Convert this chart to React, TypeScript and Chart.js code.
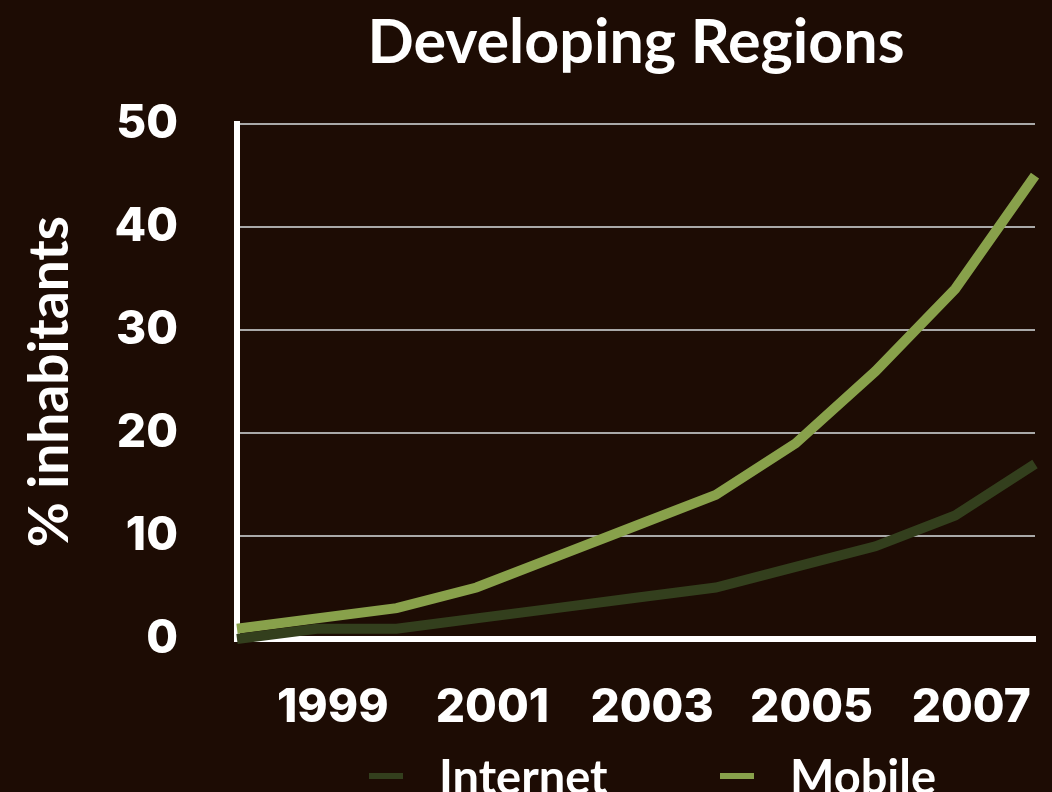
import React, { useEffect, useRef } from 'react';
import { Chart, registerables } from 'chart.js';

Chart.register(...registerables);

const years = ['1998', '1999', '2000', '2001', '2002', '2003', '2004', '2005', '2006', '2007', '2008'];
const internetValues = [0, 1, 1, 2, 3, 4, 5, 7, 9, 12, 17];
const mobileValues = [1, 2, 3, 5, 8, 11, 14, 19, 26, 34, 45];
const xTickLabels = ['1999', '2001', '2003', '2005', '2007'];
const seriesNames = ['Internet', 'Mobile'];
const seriesColors = ['#333f1d', '#88a14b'];
const chartTitle = 'Developing Regions';
const yAxisTitle = '% inhabitants';

const BG = '#1d0c04';

export default function App() {
  const canvasRef = useRef<HTMLCanvasElement | null>(null);

  useEffect(() => {
    document.body.style.margin = '0';
    const canvas = canvasRef.current;
    if (!canvas) return;
    const tickFont = { family: 'Inter', size: 46, weight: '800' as any };
    const makeDs = (i: number, data: number[]) => ({
      label: seriesNames[i],
      data,
      borderColor: seriesColors[i],
      backgroundColor: seriesColors[i],
      borderWidth: 10,
      pointRadius: 0,
      tension: 0,
      borderJoinStyle: 'miter',
      borderCapStyle: 'butt',
      fill: false,
      clip: false as any,
    });
    const chart = new Chart(canvas, {
      type: 'line',
      data: {
        labels: years,
        datasets: [makeDs(0, internetValues), makeDs(1, mobileValues)],
      },
      options: {
        responsive: false,
        animation: false,
        events: [],
        layout: { padding: { left: 0, right: 17, top: 0, bottom: 0 } },
        plugins: {
          title: {
            display: true,
            text: chartTitle,
            color: '#ffffff',
            font: { family: 'Lato', size: 61, weight: 'bold' },
            padding: { top: 7, bottom: 44 },
            fullSize: false,
          },
          legend: { display: false },
          tooltip: { enabled: false },
        },
        scales: {
          x: {
            type: 'category',
            offset: false,
            grid: { display: false },
            border: { display: true, color: '#ffffff', width: 6 },
            ticks: {
              color: '#ffffff',
              font: { ...tickFont, lineHeight: 2.57 },
              padding: 2,
              labelOffset: 16,
              autoSkip: false,
              maxRotation: 0,
              minRotation: 0,
              callback: (_v: any, i: number) => (xTickLabels.includes(years[i]) ? years[i] : ''),
            },
            afterFit: (s: any) => {
              s.height = 153;
            },
          },
          y: {
            min: 0,
            max: 50,
            ticks: {
              stepSize: 10,
              color: '#ffffff',
              font: tickFont,
              padding: 59,
            },
            grid: {
              color: (ctx: any) => (ctx.tick && ctx.tick.value === 0 ? 'rgba(0,0,0,0)' : '#a9a9a9'),
              lineWidth: 2,
              drawTicks: false,
            },
            border: { display: true, color: '#ffffff', width: 6 },
            title: {
              display: true,
              text: yAxisTitle,
              color: '#ffffff',
              font: { family: 'Lato', size: 55, weight: 'bold' },
              padding: { top: 17, bottom: 0 },
            },
            afterFit: (s: any) => {
              s.width = 237;
            },
          },
        },
      },
    } as any);
    return () => chart.destroy();
  }, []);

  const legendItem = (i: number, markerLeft: number, textLeft: number) => (
    <React.Fragment key={seriesNames[i]}>
      <div
        style={{
          position: 'absolute',
          left: markerLeft,
          top: 773,
          width: 34,
          height: 6,
          background: seriesColors[i],
        }}
      />
      <span
        style={{
          position: 'absolute',
          left: textLeft,
          top: 748,
          fontFamily: 'Lato',
          fontWeight: 700,
          fontSize: 47,
          lineHeight: '56px',
          color: '#ffffff',
          whiteSpace: 'nowrap',
        }}
      >
        {seriesNames[i]}
      </span>
    </React.Fragment>
  );

  return (
    <div style={{ position: 'fixed', left: 0, top: 0, width: 1052, height: 792, background: BG, overflow: 'hidden' }}>
      <canvas ref={canvasRef} width={1052} height={792} style={{ display: 'block', width: 1052, height: 792 }} />
      {legendItem(0, 369, 439)}
      {legendItem(1, 720, 790)}
    </div>
  );
}
